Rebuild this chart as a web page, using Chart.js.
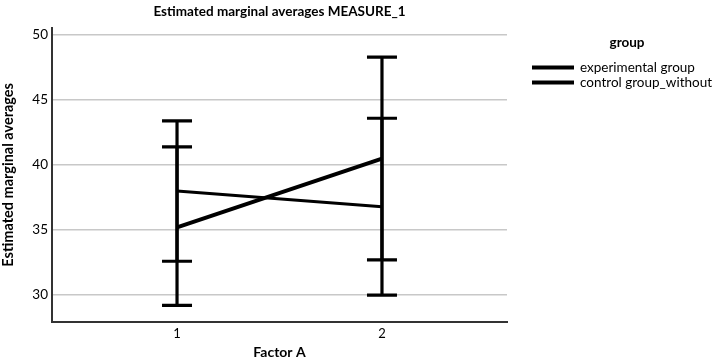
<!DOCTYPE html>
<html>
<head>
<meta charset="utf-8">
<script src="https://cdn.jsdelivr.net/npm/chart.js@4.4.1/dist/chart.umd.min.js"></script>
<style>
  html, body { margin: 0; padding: 0; background: #fff; }
  #wrap { width: 714px; height: 362px; }
</style>
</head>
<body>
<div id="wrap"><canvas id="chartEmm"></canvas></div>
<script>
// values
const factorLevels = [1, 2];
const groupNames = ['experimental group', 'control group_without'];
const experimentalMeans = [35.2, 40.5];
const controlMeans = [38.0, 36.8];
// error bars (lower / upper)
const experimentalLower = [29.2, 32.7];
const experimentalUpper = [41.4, 48.3];
const controlLower = [32.6, 30.0];
const controlUpper = [43.4, 43.6];
const yTicks = [30, 35, 40, 45, 50];

const FONT = 'Lato';
const INK = '#000';

const toPoints = (ys) => factorLevels.map((x, i) => ({ x: x, y: ys[i] }));

// draws the error bars with the chart's own scales
const errorBars = {
    id: 'errorBars',
    beforeDatasetsDraw(chart) {
        const { ctx, scales } = chart;
        ctx.save();
        ctx.strokeStyle = '#000';
        ctx.lineWidth = 3.2;
        chart.data.datasets.forEach(ds => {
            factorLevels.forEach((lvl, i) => {
                const px = scales.x.getPixelForValue(lvl);
                const lo = scales.y.getPixelForValue(ds.errLow[i]);
                const hi = scales.y.getPixelForValue(ds.errHigh[i]);
                ctx.beginPath();
                ctx.moveTo(px, lo); ctx.lineTo(px, hi);
                ctx.moveTo(px - 15, lo); ctx.lineTo(px + 15, lo);
                ctx.moveTo(px - 15, hi); ctx.lineTo(px + 15, hi);
                ctx.stroke();
            });
        });
        ctx.restore();
    }
};

// legend on the right, with a gap from the plot
const groupLegend = {
    id: 'groupLegend',
    afterDraw(chart) {
        const { ctx, chartArea } = chart;
        const x0 = chartArea.right + 25;
        ctx.save();
        ctx.fillStyle = INK;
        ctx.textBaseline = 'middle';
        ctx.font = 'bold 13.5px ' + FONT;
        ctx.textAlign = 'center';
        ctx.fillText('group', x0 + 95, 43);
        ctx.font = '13.5px ' + FONT;
        ctx.textAlign = 'left';
        chart.data.datasets.forEach((ds, i) => {
            const y = 67.5 + i * 15;
            ctx.strokeStyle = ds.borderColor;
            ctx.lineWidth = 3.8;
            ctx.beginPath();
            ctx.moveTo(x0, y); ctx.lineTo(x0 + 42, y);
            ctx.stroke();
            ctx.fillText(ds.label, x0 + 48, y);
        });
        ctx.restore();
    }
};

const ctx = document.getElementById('chartEmm').getContext('2d');

new Chart(ctx, {
    type: 'line',
    data: {
        datasets: [
            {
                label: groupNames[0],
                data: toPoints(experimentalMeans),
                errLow: experimentalLower,
                errHigh: experimentalUpper,
                borderColor: '#000',
                borderWidth: 4,
                pointRadius: 0
            },
            {
                label: groupNames[1],
                data: toPoints(controlMeans),
                errLow: controlLower,
                errHigh: controlUpper,
                borderColor: '#000',
                borderWidth: 3,
                pointRadius: 0
            }
        ]
    },
    options: {
        responsive: true,
        maintainAspectRatio: false,
        devicePixelRatio: 1,
        animation: false,
        layout: { padding: { left: 0, right: 207, top: 0, bottom: 0 } },
        plugins: {
            legend: { display: false },
            tooltip: { enabled: false },
            title: {
                display: true,
                fullSize: false,
                text: 'Estimated marginal averages MEASURE_1',
                color: INK,
                font: { family: FONT, size: 13.5, weight: 'bold' },
                padding: { top: 4, bottom: 7.8 }
            }
        },
        scales: {
            x: {
                type: 'linear',
                min: 0.39,
                max: 2.61,
                afterBuildTicks: scale => { scale.ticks = factorLevels.map(v => ({ value: v })); },
                afterFit: scale => { scale.height = 40.3; },
                grid: { display: false, drawTicks: false },
                border: { color: '#333', width: 2 },
                ticks: { color: INK, font: { family: FONT, size: 13 }, padding: 4 },
                title: {
                    display: true,
                    text: 'Factor A',
                    color: INK,
                    font: { family: FONT, size: 14, weight: 'bold' },
                    padding: { top: 2, bottom: 1 }
                }
            },
            y: {
                min: 27.95,
                max: 50.54,
                afterBuildTicks: scale => { scale.ticks = yTicks.map(v => ({ value: v })); },
                afterFit: scale => { scale.width = 52; },
                grid: { color: '#c8c8c8', lineWidth: 1.5, drawTicks: false },
                border: { color: '#333', width: 2 },
                ticks: { color: INK, font: { family: FONT, size: 13.5 }, padding: 4 },
                title: {
                    display: true,
                    text: 'Estimated marginal averages',
                    color: INK,
                    font: { family: FONT, size: 14.5, weight: 'bold' },
                    padding: { top: 0, bottom: 4 }
                }
            }
        }
    },
    plugins: [errorBars, groupLegend]
});
</script>
</body>
</html>
